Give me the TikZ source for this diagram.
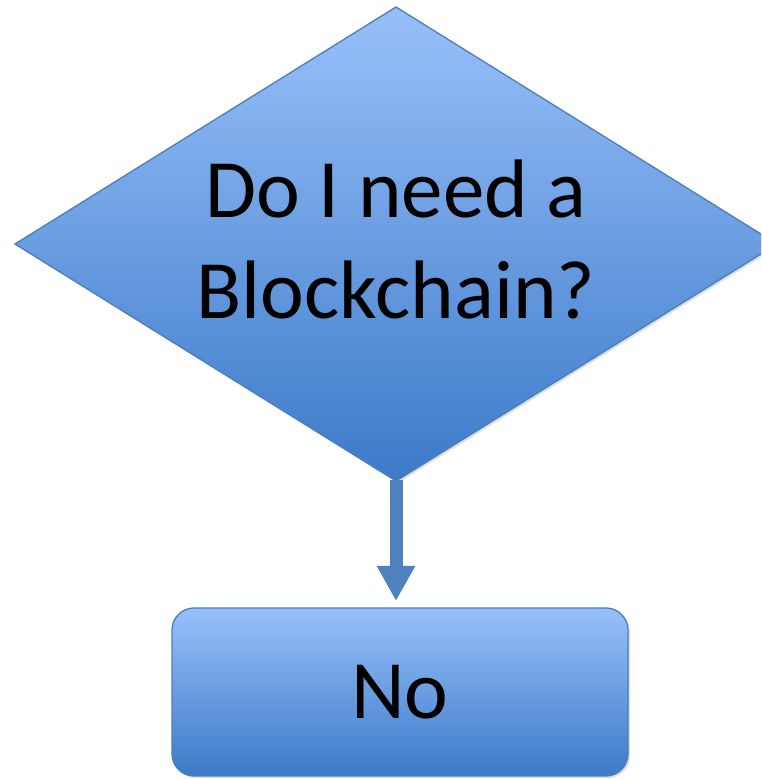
\documentclass[tikz,border=0pt]{standalone}
\usepackage{fontspec}
\setmainfont{Carlito}
\usetikzlibrary{shapes.geometric,arrows.meta,shadows}
\definecolor{topblue}{RGB}{152,192,250}
\definecolor{botblue}{RGB}{60,122,200}
\definecolor{edgeblue}{RGB}{74,126,190}
\definecolor{arrowblue}{RGB}{79,129,189}
\tikzset{
  shapefill/.style={top color=topblue, bottom color=botblue, draw=edgeblue, line width=1.3pt,
    drop shadow={opacity=0.25, shadow xshift=2pt, shadow yshift=-2pt}},
  bigtext/.style={font=\fontsize{83}{101}\selectfont, text=black},
  decision/.style={diamond, aspect=1.608, shapefill, inner sep=0pt,
    outer sep=0pt, minimum width=762pt, minimum height=474pt},
  label/.style={bigtext, align=center, inner sep=0pt},
  endbox/.style={rectangle, rounded corners=22pt, shapefill, bigtext, inner sep=0pt,
    outer sep=0pt, minimum width=456pt, minimum height=168pt},
  flowarrow/.style={draw=arrowblue, line width=13pt,
    -{Triangle[width=36pt,length=35pt]}, arrowblue}
}
\begin{document}
\begin{tikzpicture}[x=1pt,y=1pt]
\useasboundingbox (0,0) rectangle (761,779);
\clip (0,0) rectangle (761,779);
\node[decision] (q) at (396,535) {};
\node[label] (qtext) at ([yshift=5pt]q.center) {Do I need a\\Blockchain?};
\node[endbox] (no) at (400,87) {No};
\draw[flowarrow, shorten <=-1pt, shorten >=7pt] (q.south) -- (q.south |- no.north);
\end{tikzpicture}
\end{document}
